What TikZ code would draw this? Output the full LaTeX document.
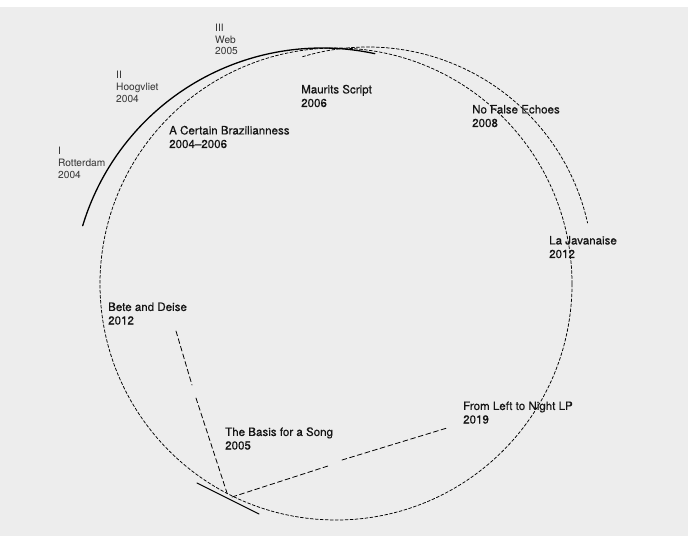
\documentclass[tikz,border=0pt]{standalone}
\usepackage{fontspec}
\setmainfont{TeX Gyre Heros}
\newfontfamily\heavy[FakeBold=0.45,Ligatures=TeX]{TeX Gyre Heros}
\definecolor{paper}{HTML}{EDEDED}
\tikzset{
  title/.style={anchor=base west,align=left,inner sep=0pt,
    font=\heavy\fontsize{11.6}{13.6}\selectfont,text=black!92},
  station/.style={anchor=base west,align=left,inner sep=0pt,
    font=\fontsize{10.2}{12}\selectfont,text=black!80},
  route/.style={line width=0.75pt,dash pattern=on 3pt off 2pt},
  link/.style={line width=0.8pt,dash pattern=on 5pt off 3pt},
}

\begin{document}
\begin{tikzpicture}[x=1bp,y=-1bp,line cap=round,line join=round]
  \useasboundingbox (0,0) rectangle (688,536);
  \fill[white] (0,0) rectangle (688,7);
  \fill[paper] (0,7) rectangle (688,536);
  % kringen
  \coordinate (ring) at (336,284);
  \coordinate (echo) at (368,272);
  \coordinate (tour) at (322,298);
  \draw[route] (ring) circle[radius=236];
  \begin{scope}[shift={(echo)}]
    \draw[route] plot[smooth,domain=-106.9:-12.6,samples=50] (\x:225);
  \end{scope}
  \begin{scope}[shift={(tour)}]
    \draw[line width=1.3pt] plot[smooth,domain=-163.2:-77.8,samples=50] (\x:250);
  \end{scope}
  % lijnen naar de basis
  \coordinate (bete a) at (176,331);
  \coordinate (bete b) at (192,385);
  \coordinate (bete c) at (196,398);
  \coordinate (bete d) at (227,493);
  \coordinate (left a) at (232,497);
  \coordinate (left b) at (328,466);
  \coordinate (left c) at (342,460);
  \coordinate (left d) at (447,428);
  \coordinate (basis a) at (197,483);
  \coordinate (basis b) at (259,514);
  \draw[link] (bete a) -- (bete b);
  \draw[link] (bete c) -- (bete d);
  \draw[link] (left a) -- (left b);
  \draw[link] (left c) -- (left d);
  \draw[line width=1.1pt] (basis a) -- (basis b);
  % stations (base = laatste regel)
  \node[station] (rotterdam) at (58,178.5) {I\\Rotterdam\\2004};
  \node[station] (hoogvliet) at (116,102.5) {II\\Hoogvliet\\2004};
  \node[station] (web) at (215,55) {III\\Web\\2005};
  % titels
  \node[title] (brazil) at (169,148) {A Certain Brazilianness\\2004--2006};
  \node[title] (maurits) at (301,107) {Maurits Script\\2006};
  \node[title] (echoes) at (472,127) {No False Echoes\\2008};
  \node[title] (javanaise) at (549,258) {La Javanaise\\2012};
  \node[title] (bete) at (108,324.5) {Bete and Deise\\2012};
  \node[title] (basis) at (225,449.5) {The Basis for a Song\\2005};
  \node[title] (night) at (463,423.5) {From Left to Night LP\\2019};
\end{tikzpicture}
\end{document}
